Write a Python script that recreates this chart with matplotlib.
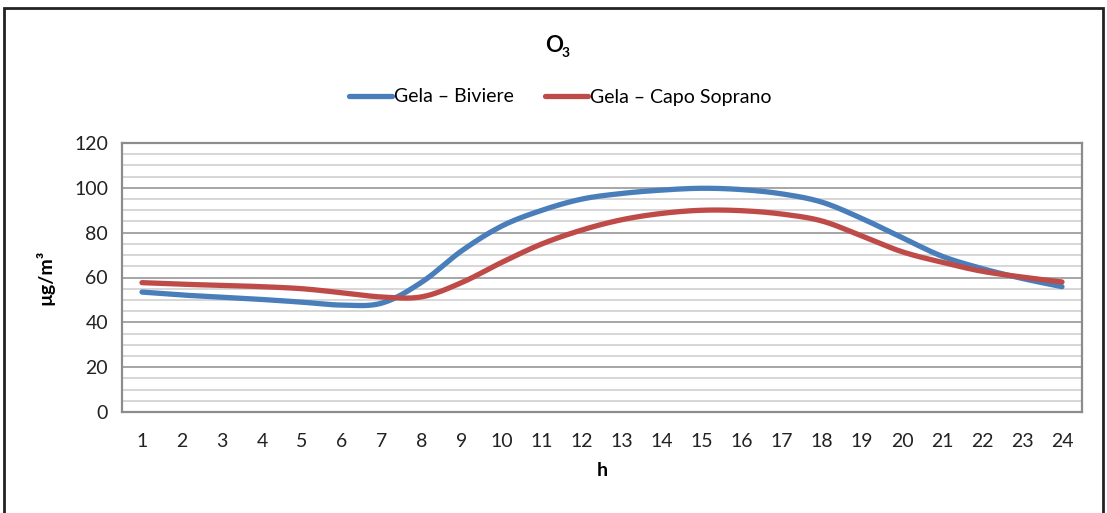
import numpy as np
import matplotlib
matplotlib.use("Agg")
import matplotlib.pyplot as plt
from matplotlib.patches import Rectangle

plt.rcParams['font.family'] = ['Lato', 'DejaVu Sans']

hours = list(range(1, 25))
biviere = [53.5, 52.2, 51.2, 50.2, 49.0, 47.7, 48.6, 58.0, 72.0, 83.0, 90.0, 95.0,
           97.5, 99.0, 99.8, 99.2, 97.3, 93.6, 86.3, 77.8, 69.5, 64.0, 59.6, 55.9]
capo_soprano = [57.7, 57.0, 56.5, 55.9, 55.0, 53.2, 51.3, 51.4, 57.8, 66.8, 75.0, 81.2,
                85.8, 88.6, 90.0, 89.8, 88.3, 85.2, 78.5, 71.5, 66.8, 62.8, 60.2, 58.0]
series_names = ["Gela \u2013 Biviere", "Gela \u2013 Capo Soprano"]
series_colors = ["#4a7ebb", "#be4b48"]


def smooth(x, y, n=30):
    """Catmull-Rom style curve through every point (spreadsheet 'smoothed line')."""
    x = np.asarray(x, float)
    y = np.asarray(y, float)
    px = np.concatenate([[x[0]], x, [x[-1]]])
    py = np.concatenate([[y[0]], y, [y[-1]]])
    xs, ys = [], []
    t = np.linspace(0, 1, n, endpoint=False)
    for i in range(1, len(px) - 2):
        p0, p1, p2, p3 = (np.array([px[j], py[j]]) for j in (i - 1, i, i + 1, i + 2))
        c1 = p1 + (p2 - p0) / 6.0
        c2 = p2 - (p3 - p1) / 6.0
        b = ((1 - t) ** 3)[:, None] * p1 + (3 * (1 - t) ** 2 * t)[:, None] * c1 \
            + (3 * (1 - t) * t ** 2)[:, None] * c2 + (t ** 3)[:, None] * p2
        xs.append(b[:, 0])
        ys.append(b[:, 1])
    xs.append([x[-1]])
    ys.append([y[-1]])
    return np.concatenate(xs), np.concatenate(ys)


fig = plt.figure(figsize=(11.07, 5.13), dpi=100)
ax = fig.add_axes([122 / 1107, 1 - 412 / 513, 960 / 1107, 269 / 513])

# outer frame
fig.patches.append(Rectangle((4 / 1107, -0.05), 1099 / 1107, 1.05 - 8 / 513,
                             transform=fig.transFigure, fill=False,
                             edgecolor="#222222", linewidth=2.0))

# gridlines: light every 5, darker every 20
for v in np.arange(5, 120, 5):
    major = (v % 20 == 0)
    ax.axhline(v, color="#a6a6a6" if major else "#cfcfcf",
               linewidth=1.4 if major else 1.2, zorder=0)

handles = []
for vals, name, col in zip([biviere, capo_soprano], series_names, series_colors):
    sx, sy = smooth(hours, vals)
    h, = ax.plot(sx, sy, color=col, linewidth=3.8, solid_capstyle="round",
                 label=name, zorder=3)
    handles.append(h)

ax.set_xlim(0.5, 24.5)
ax.set_ylim(0, 120)
ax.set_yticks(range(0, 121, 20))
ax.set_xticks(hours)
ax.set_xticklabels([str(h) for h in hours])
ax.tick_params(axis="both", length=0, labelsize=14, colors="#222222")
ax.tick_params(axis="x", pad=15)
ax.tick_params(axis="y", pad=10)
for s in ax.spines.values():
    s.set_color("#8c8c8c")
    s.set_linewidth(1.6)

ax.set_xlabel("h", fontsize=14, fontweight="bold", labelpad=9)
ax.set_ylabel("\u00b5g/m\u00b3", fontsize=14, fontweight="bold", labelpad=14)

# title: O with subscript 3
fig.text(554 / 1107, 1 - 46 / 513, "O", ha="center", va="center",
         fontsize=16, fontweight="bold")
fig.text(562 / 1107, 1 - 53 / 513, "3", ha="left", va="center",
         fontsize=10, fontweight="bold")

fig.legend(handles=handles, loc="center", bbox_to_anchor=(0.506, 1 - 97 / 513),
           ncol=2, frameon=False, fontsize=14, handlelength=2.2,
           handletextpad=0.1, columnspacing=1.6)

fig.savefig("out.png", dpi=100)
